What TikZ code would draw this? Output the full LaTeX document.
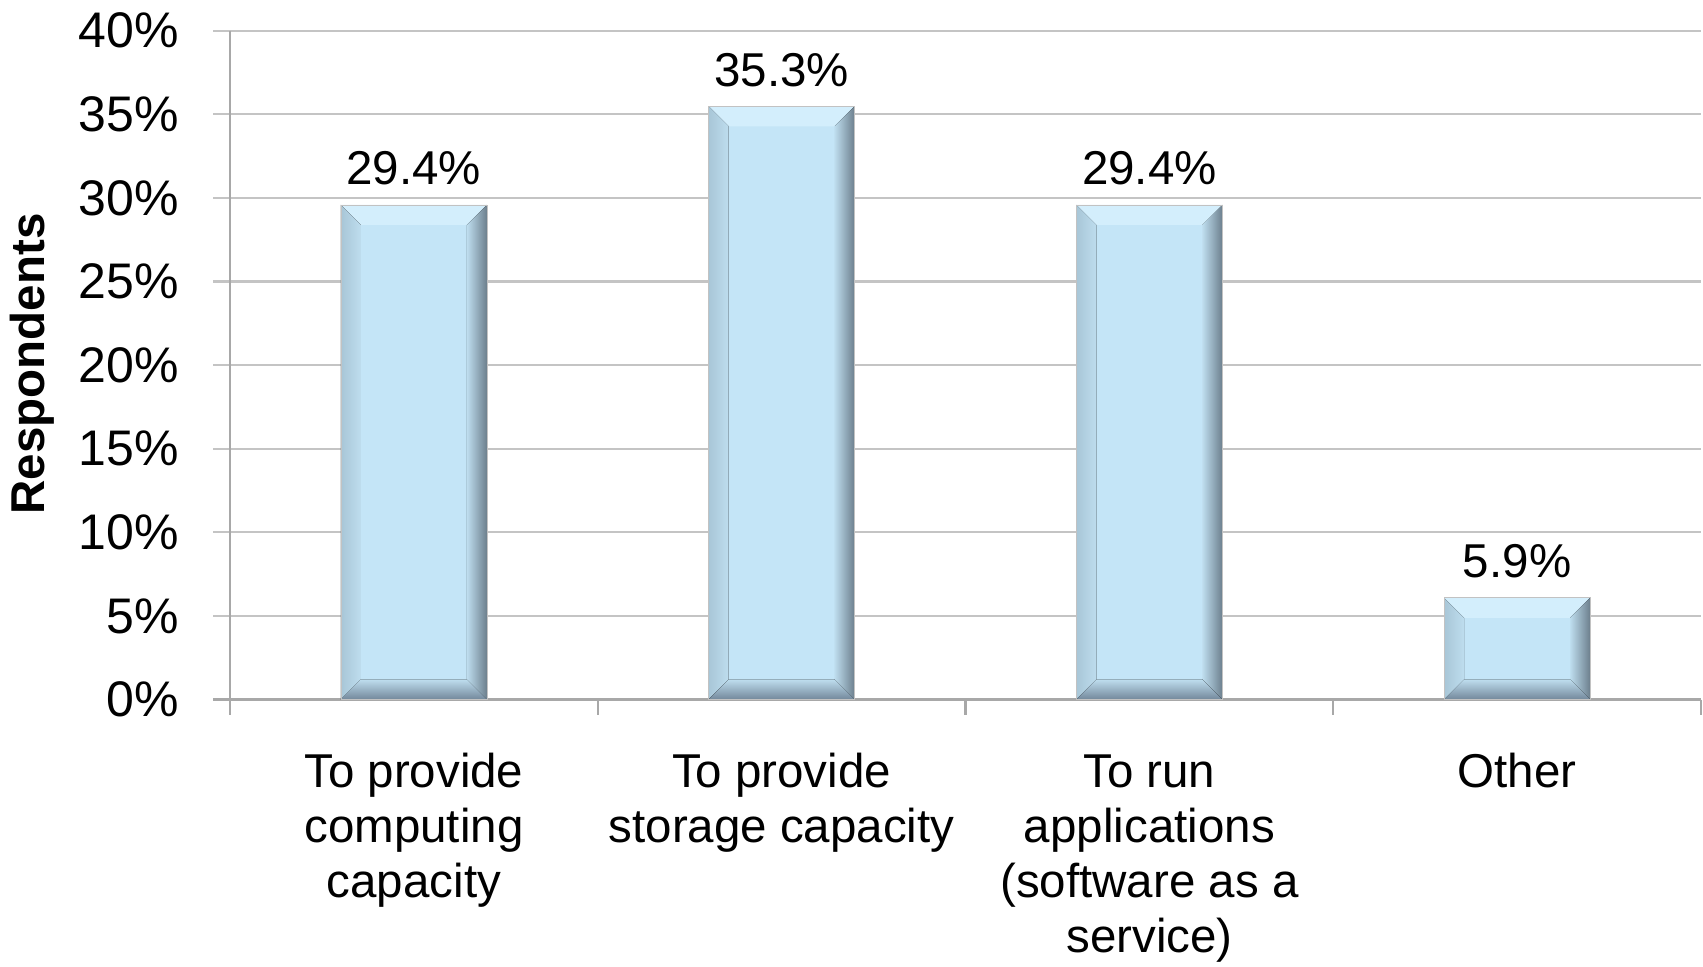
\documentclass[tikz,border=0pt]{standalone}
\usepackage{fontspec}
\setmainfont{Liberation Sans}
\definecolor{gridc}{HTML}{C4C4C4}
\definecolor{axisc}{HTML}{A8A8A8}
\definecolor{face}{HTML}{C4E5F7}
\definecolor{topbev}{HTML}{D3EEFC}
\definecolor{leftout}{HTML}{A8C6D7}
\definecolor{rightout}{HTML}{6C7F8D}
\definecolor{botout}{HTML}{72879A}
\definecolor{inner}{HTML}{BEDDEE}
\newcommand\bevbar[3]{% name, center x, value
  \pgfmathsetmacro\bty{699.5-#3*16.72-3}
  \pgfmathsetmacro\bity{\bty+20}
  \coordinate (#1-tl) at ({#2-73},\bty);
  \coordinate (#1-tr) at ({#2+73},\bty);
  \coordinate (#1-bl) at ({#2-73},699.5);
  \coordinate (#1-br) at ({#2+73},699.5);
  \coordinate (#1-itl) at ({#2-53},\bity);
  \coordinate (#1-itr) at ({#2+53},\bity);
  \coordinate (#1-ibl) at ({#2-53},679.5);
  \coordinate (#1-ibr) at ({#2+53},679.5);
  \fill[face] (#1-tl) rectangle (#1-br);
  \fill[topbev] (#1-tl) -- (#1-tr) -- (#1-itr) -- (#1-itl) -- cycle;
  \fill[left color=leftout, right color=inner] (#1-tl) -- (#1-itl) -- (#1-ibl) -- (#1-bl) -- cycle;
  \fill[left color=inner, right color=rightout] (#1-tr) -- (#1-itr) -- (#1-ibr) -- (#1-br) -- cycle;
  \fill[top color=inner, bottom color=botout] (#1-bl) -- (#1-ibl) -- (#1-ibr) -- (#1-br) -- cycle;
  \draw[line width=0.4pt, draw=axisc!70] (#1-tl) rectangle (#1-br);
}
\tikzset{
  grid line/.style={draw=gridc, line width=1.1pt},
  axis line/.style={draw=axisc, line width=1.1pt},
  ticklab/.style={anchor=east, inner sep=0pt, font=\fontsize{25pt}{30pt}\selectfont},
  datalab/.style={anchor=base, inner sep=0pt, font=\fontsize{23.75pt}{27.5pt}\selectfont},
  catlab/.style={anchor=base, inner sep=0pt, align=center, font=\fontsize{23.75pt}{27.5pt}\selectfont},
  ylab/.style={rotate=90, inner sep=0pt, font=\fontsize{23.75pt}{28pt}\selectfont\bfseries}
}
\begin{document}
\begin{tikzpicture}[x=0.5pt, y=-0.5pt]
\useasboundingbox[fill=white] (0,0) rectangle (1703,966);
% gridlines and tick labels
\foreach \v in {5,10,...,40} {
  \draw[grid line] (213,{699.5-\v*16.72}) -- (1701,{699.5-\v*16.72});
}
\foreach \v in {0,5,...,40} {
  \node[ticklab] (t\v) at (179,{699.5-\v*16.72}) {\v\%};
}
% axes
\draw[axis line] (230,30.6) -- (230,699.5);
\draw[axis line] (213,699.5) -- (1701,699.5);
\foreach \k in {0,1,2,3,4} {
  \draw[axis line] ({230+\k*367.75},699.5) -- ({230+\k*367.75},715);
}
% bars
\bevbar{b1}{413.9}{29.4}
\bevbar{b2}{781.6}{35.3}
\bevbar{b3}{1149.4}{29.4}
\bevbar{b4}{1517.1}{5.9}
% data labels
\node[datalab] (d1) at (413.9,{699.5-29.4*16.72-23}) {29.4\%};
\node[datalab] (d2) at (781.6,{699.5-35.3*16.72-23}) {35.3\%};
\node[datalab] (d3) at (1149.4,{699.5-29.4*16.72-23}) {29.4\%};
\node[datalab] (d4) at (1517.1,{699.5-5.9*16.72-23}) {5.9\%};
% category labels (base anchor = last line baseline)
\node[catlab] (c1) at (413.9,897) {To provide\\computing\\capacity};
\node[catlab] (c2) at (781.6,842) {To provide\\storage capacity};
\node[catlab] (c3) at (1149.4,952) {To run\\applications\\(software as a\\service)};
\node[catlab] (c4) at (1517.1,787) {Other};
% y label
\node[ylab] (yl) at (32,364) {Respondents};
\end{tikzpicture}
\end{document}
